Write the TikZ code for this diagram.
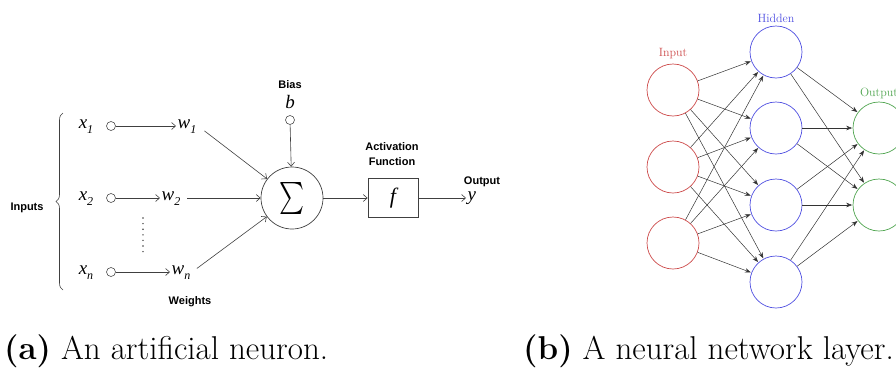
\documentclass[tikz,border=0pt]{standalone}
\usepackage{fontspec}
\usetikzlibrary{arrows.meta,decorations.pathreplacing}
\newfontfamily\diagsans{Liberation Sans}
\newfontfamily\diagserif{Liberation Serif}
\definecolor{inred}{RGB}{205,75,75}
\definecolor{hidblue}{RGB}{80,80,225}
\definecolor{outgreen}{RGB}{80,165,80}
\newcommand{\lowidx}[1]{\raisebox{-0.28em}{\fontsize{12}{12}\selectfont #1}}

\begin{document}
\begin{tikzpicture}[x=1pt,y=-1pt,
  sanslabel/.style={font=\diagsans\bfseries\fontsize{11}{13}\selectfont, inner sep=0, align=center},
  mathlabel/.style={font=\diagserif\itshape\fontsize{19}{19}\selectfont, inner sep=1.5pt},
  port/.style={circle, draw=black!70, line width=0.6pt, minimum size=9pt, inner sep=0},
  feed/.style={draw=black!75, line width=0.6pt, -{Straight Barb[length=4pt,width=7pt]}},
  neuron/.style={circle, minimum size=52pt, inner sep=0, line width=0.7pt},
  link/.style={draw=black!80, line width=0.5pt, -{Stealth[length=6pt,width=4.5pt]}, shorten >=0.5pt},
  layerlabel/.style={font=\fontsize{12}{14}\selectfont, inner sep=0},
  caption/.style={anchor=base west, inner sep=0, font=\fontsize{33}{36}\selectfont}]
\useasboundingbox (0,0) rectangle (896,370);

% ---------- artificial neuron ----------
\node[sanslabel] (inputs) at (27,208) {Inputs};
\draw[line width=0.6pt, black!75, decorate, decoration={brace, amplitude=7pt}]
  (63,290) -- (63,113);

\node[mathlabel, anchor=mid] (x1) at (86,126) {x\lowidx{1}};
\node[mathlabel, anchor=mid] (x2) at (86,198) {x\lowidx{2}};
\node[mathlabel, anchor=mid] (xn) at (86,272) {x\lowidx{n}};

\node[port] (c1) at (111,126) {};
\node[port] (c2) at (111,198) {};
\node[port] (cn) at (111,272) {};

\node[mathlabel, anchor=mid west] (w1) at (176,126) {w\lowidx{1}};
\node[mathlabel, anchor=mid west] (w2) at (160,198) {w\lowidx{2}};
\node[mathlabel, anchor=mid west] (wn) at (170,272) {w\lowidx{n}};

\draw[feed] (c1) -- (w1.mid west);
\draw[feed] (c2) -- (w2.mid west);
\draw[feed] (cn) -- (wn.mid west);

\foreach \k in {0,...,6}
  \fill[black!75] (143,218+\k*5.6) circle (0.8);

\node[sanslabel] (weights) at (190,302) {Weights};

\node[circle, draw=black!75, line width=0.7pt, minimum size=62pt, inner sep=0] (sum) at (292,198)
  {\resizebox*{25pt}{32pt}{$\sum$}};

\node[sanslabel] (bias) at (290,85) {Bias};
\node[mathlabel, anchor=mid, inner sep=0] (b) at (290,106) {b};
\node[port] (cb) at (290,120) {};
\draw[feed] (cb) -- (sum);

\draw[feed, shorten <=8pt] (w1.mid east) -- (sum);
\draw[feed, shorten <=5pt] (w2.mid east) -- (sum);
\draw[feed, shorten <=6pt] (wn.mid east) -- (sum);

\node[draw=black!75, line width=0.7pt, minimum width=50pt, minimum height=39pt, inner sep=0,
  font=\diagserif\itshape\fontsize{22}{22}\selectfont] (act) at (393,198) {f};
\node[sanslabel, font=\diagsans\bfseries\fontsize{11}{15}\selectfont] (actlabel) at (392,154) {Activation\\Function};
\draw[feed] (sum) -- (act);

\node[sanslabel] (outlabel) at (482,182) {Output};
\node[mathlabel, anchor=mid west] (y) at (466,198) {y};
\draw[feed] (act) -- (y.mid west);

% ---------- neural network layer ----------
\begin{scope}
\clip (600,0) rectangle (896,312);
\node[neuron, draw=inred] (i1) at (673,90) {};
\node[neuron, draw=inred] (i2) at (673,167) {};
\node[neuron, draw=inred] (i3) at (673,243) {};
\node[neuron, draw=hidblue] (h1) at (776,52) {};
\node[neuron, draw=hidblue] (h2) at (776,128) {};
\node[neuron, draw=hidblue] (h3) at (776,205) {};
\node[neuron, draw=hidblue] (h4) at (776,282) {};
\node[neuron, draw=outgreen] (o1) at (879,128) {};
\node[neuron, draw=outgreen] (o2) at (879,205) {};

\node[layerlabel, text=inred] (inlab) at (673,54) {Input};
\node[layerlabel, text=hidblue] (hidlab) at (776,18) {Hidden};
\node[layerlabel, text=outgreen] (outlab) at (879,93) {Output};

\foreach \i in {i1,i2,i3}
  \foreach \h in {h1,h2,h3,h4}
    \draw[link] (\i) -- (\h);
\foreach \h in {h1,h2,h3,h4}
  \foreach \o in {o1,o2}
    \draw[link] (\h) -- (\o);
\end{scope}

% ---------- captions ----------
\node[caption] (capa) at (4,359) {\textbf{(a)} An artificial neuron.};
\node[caption] (capb) at (523,359) {\textbf{(b)} A neural network layer.};
\end{tikzpicture}
\end{document}
